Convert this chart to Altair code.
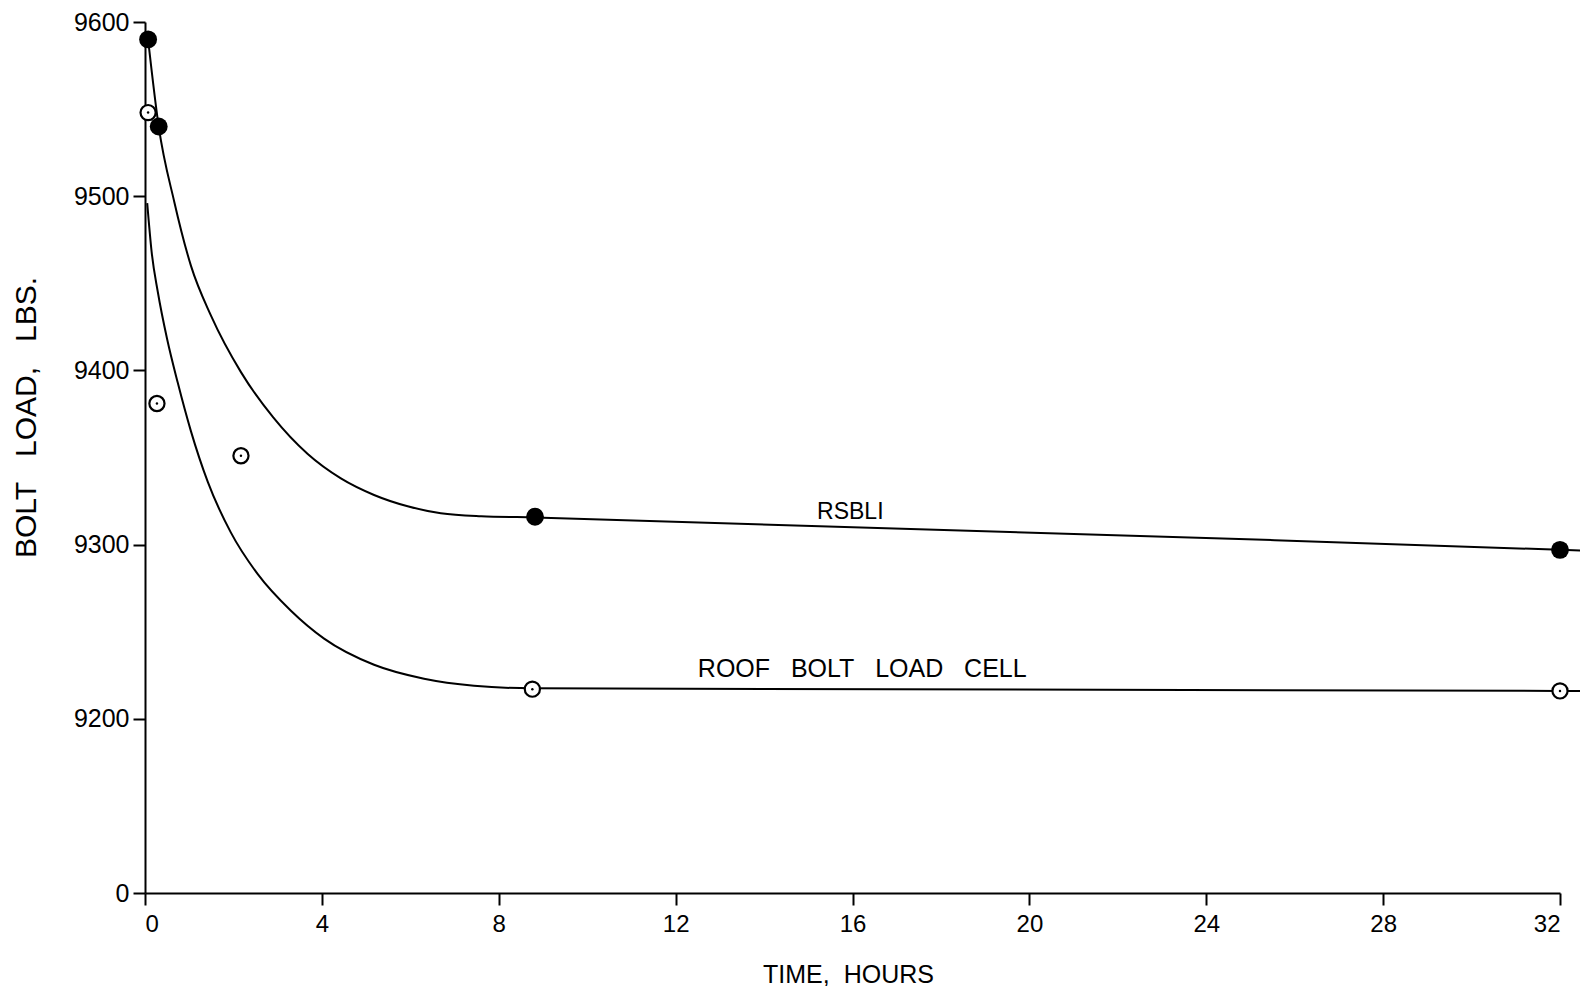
import altair as alt
import pandas as pd

rsbli_t = [0.07, 0.31, 8.82, 32.0]
rsbli_v = [9590, 9540, 9316, 9297]

cell_t = [0.07, 0.27, 2.17, 8.76, 32.0]
cell_v = [9548, 9381, 9351, 9217, 9216]

# ---- hand-drawn fitted curves ----
rsbli_curve_t = [0.07, 0.31, 0.66, 1.04, 1.5, 2.17, 2.9, 3.68, 4.43, 5.18,
                 5.94, 6.69, 7.6, 8.82, 32.0, 32.6]
rsbli_curve_v = [9590, 9540, 9497, 9460, 9431, 9399, 9373, 9352, 9338, 9328.5,
                 9322, 9318, 9316.3, 9315.6, 9297, 9296.5]

cell_curve_t = [0.05, 0.15, 0.29, 0.5, 0.74, 1.04, 1.42, 1.94, 2.55, 3.30, 4.05,
                5.18, 6.31, 7.44, 8.76, 32.0, 32.55]
cell_curve_v = [9496, 9468, 9445, 9418, 9393, 9365, 9336, 9307, 9283, 9262, 9246,
                9231, 9223, 9219, 9217.5, 9216, 9216]

# ---- curve labels ----
rsbli_label = "RSBLI"
rsbli_label_t = 15.95
rsbli_label_v = 9319
cell_label = "ROOF\u00a0\u00a0\u00a0BOLT\u00a0\u00a0\u00a0LOAD\u00a0\u00a0\u00a0CELL"
cell_label_t = 16.22
cell_label_v = 9228.6

x_ticks = [0, 4, 8, 12, 16, 20, 24, 28, 32]
y_ticks = [9100, 9200, 9300, 9400, 9500, 9600]

FONT = "Liberation Sans"

rsbli_pts = pd.DataFrame({"t": rsbli_t, "v": rsbli_v})
cell_pts = pd.DataFrame({"t": cell_t, "v": cell_v})
rsbli_curve = pd.DataFrame({"t": rsbli_curve_t, "v": rsbli_curve_v})
cell_curve = pd.DataFrame({"t": cell_curve_t, "v": cell_curve_v})
lab1 = pd.DataFrame({"text": [rsbli_label], "t": [rsbli_label_t], "v": [rsbli_label_v]})
lab2 = pd.DataFrame({"text": [cell_label], "t": [cell_label_t], "v": [cell_label_v]})

x_enc = alt.X(
    "t:Q",
    scale=alt.Scale(domain=[0, 32], nice=False, zero=False),
    axis=alt.Axis(
        values=x_ticks, format="d", grid=False, tickSize=12, tickWidth=2,
        domainWidth=2, domainColor="black", tickColor="black",
        labelFontSize=24, labelFont=FONT, labelColor="black", labelPadding=7,
        title="TIME,\u00a0\u00a0HOURS", titleFontSize=25, titleFont=FONT,
        titleFontWeight="normal", titleColor="black",
        titleX=703, titleY=81, titleBaseline="middle", titleAlign="center",
    ),
)
y_enc = alt.Y(
    "v:Q",
    scale=alt.Scale(domain=[9100, 9600], nice=False, zero=False),
    axis=alt.Axis(
        values=y_ticks, format="d", grid=False, tickSize=12, tickWidth=2,
        domainWidth=2, domainColor="black", tickColor="black",
        labelExpr="datum.value == 9100 ? '0' : datum.label",
        labelFontSize=25, labelFont=FONT, labelColor="black", labelPadding=4,
        title="BOLT\u00a0\u00a0\u00a0LOAD,\u00a0\u00a0\u00a0LBS.", titleFontSize=30, titleFont=FONT,
        titleFontWeight="normal", titleColor="black",
        titleX=-119, titleY=395, titleAngle=-90,
        titleBaseline="middle", titleAlign="center",
    ),
)

line_rsbli = alt.Chart(rsbli_curve).mark_line(
    color="black", strokeWidth=2, interpolate="monotone"
).encode(x=x_enc, y=y_enc)
line_cell = alt.Chart(cell_curve).mark_line(
    color="black", strokeWidth=2, interpolate="monotone"
).encode(x="t:Q", y="v:Q")

pts_rsbli = alt.Chart(rsbli_pts).mark_circle(
    color="black", size=320, opacity=1
).encode(x="t:Q", y="v:Q")
pts_cell = alt.Chart(cell_pts).mark_point(
    shape="circle", filled=True, fill="white", stroke="black",
    strokeWidth=2.2, size=230, opacity=1
).encode(x="t:Q", y="v:Q")
dots_cell = alt.Chart(cell_pts).mark_circle(
    color="black", size=6, opacity=1
).encode(x="t:Q", y="v:Q")

txt1 = alt.Chart(lab1).mark_text(
    font=FONT, fontSize=23, color="black", align="center", baseline="middle"
).encode(x="t:Q", y="v:Q", text="text:N")
txt2 = alt.Chart(lab2).mark_text(
    font=FONT, fontSize=25, color="black", align="center", baseline="middle"
).encode(x="t:Q", y="v:Q", text="text:N")

chart = alt.layer(
    line_rsbli, line_cell, pts_rsbli, pts_cell, dots_cell, txt1, txt2
).properties(
    width=1415, height=871,
    autosize=alt.AutoSizeParams(type="none"),
    padding={"left": 137, "top": 14, "right": 20, "bottom": 93},
    background="white",
).configure_view(stroke=None)

chart.save("out.html", embed_options={"renderer": "svg", "actions": False})
